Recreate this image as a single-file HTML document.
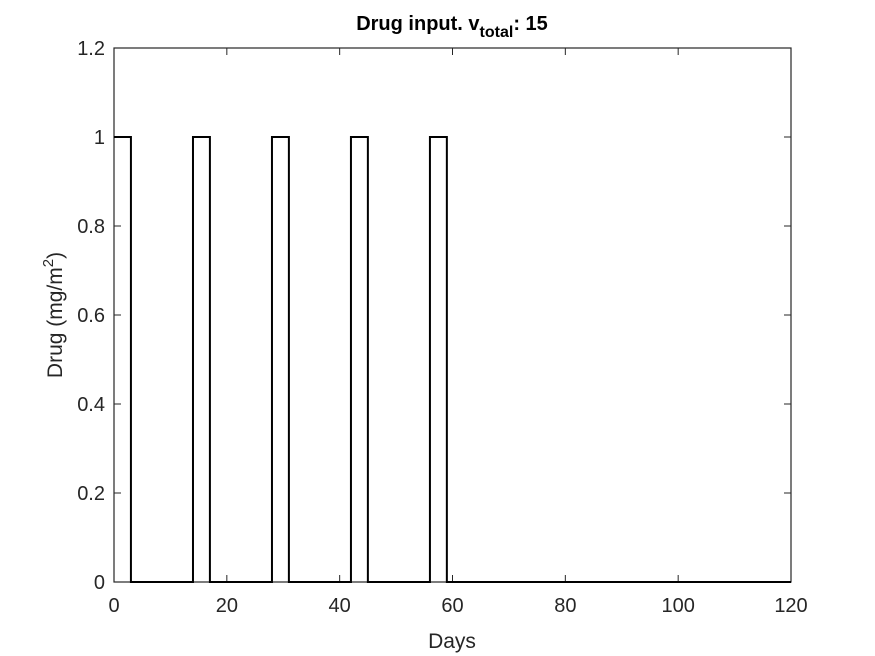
<!DOCTYPE html>
<html><head><meta charset="utf-8"><style>
html,body{margin:0;padding:0;background:#fff;}
svg{display:block;font-family:"Liberation Sans",Arial,sans-serif;}
</style></head><body>
<svg id="chart" width="875" height="656" viewBox="0 0 875 656">
<rect width="875" height="656" fill="#fff"/>
<rect x="114" y="48" width="677" height="534" fill="#fff" stroke="#262626" stroke-width="1.2"/>
<g id="ticks"></g>
<path id="series" fill="none" stroke="#000" stroke-width="2"/>
<text x="452" y="30" text-anchor="middle" font-size="20" font-weight="bold" fill="#000">Drug input. v<tspan font-size="16" dy="7">total</tspan><tspan dy="-7">: 15</tspan></text>
<text x="452" y="648" text-anchor="middle" font-size="21" fill="#262626">Days</text>
<text transform="translate(62,315) rotate(-90)" text-anchor="middle" font-size="21" fill="#262626">Drug (mg/m<tspan font-size="15" dy="-9">2</tspan><tspan dy="9">)</tspan></text>
</svg>
<script>
const times = [0, 3, 14, 17, 28, 31, 42, 45, 56, 59, 120];
const doses = [1, 0, 1, 0, 1, 0, 1, 0, 1, 0, 0];
const xTicks = [0, 20, 40, 60, 80, 100, 120];
const yTicks = [0, 0.2, 0.4, 0.6, 0.8, 1, 1.2];
const yTickLabels = ["0", "0.2", "0.4", "0.6", "0.8", "1", "1.2"];
const X0 = 114, X1 = 791, Y0 = 582, Y1 = 48;
const xMin = 0, xMax = 120, yMin = 0, yMax = 1.2;
function sx(v){return X0 + (v - xMin) / (xMax - xMin) * (X1 - X0);}
function sy(v){return Y0 - (v - yMin) / (yMax - yMin) * (Y0 - Y1);}
const ns = "http://www.w3.org/2000/svg";
const g = document.getElementById("ticks");
function mk(tag, attrs){const e=document.createElementNS(ns,tag);for(const k in attrs)e.setAttribute(k,attrs[k]);return e;}
xTicks.forEach(function(t){
  const x = sx(t);
  const l1 = mk("line",{x1:x,x2:x,y1:Y0,y2:Y0-7,stroke:"#262626"});
  
  
  g.appendChild(l1);
  const l2 = mk("line",{x1:x,x2:x,y1:Y1,y2:Y1+7,stroke:"#262626"});
  
  
  g.appendChild(l2);
  const tx = mk("text",{x:x,y:Y0+30,"text-anchor":"middle","font-size":"20",fill:"#262626"});
  tx.textContent = String(t);
  
  
  g.appendChild(tx);
});
yTicks.forEach(function(t,i){
  const y = sy(t);
  const l1 = mk("line",{x1:X0,x2:X0+7,y1:y,y2:y,stroke:"#262626"});
  
  
  g.appendChild(l1);
  const l2 = mk("line",{x1:X1,x2:X1-7,y1:y,y2:y,stroke:"#262626"});
  
  
  g.appendChild(l2);
  const tx = mk("text",{x:X0-9,y:y+7,"text-anchor":"end","font-size":"20",fill:"#262626"});
  tx.textContent = yTickLabels[i];
  
  
  g.appendChild(tx);
});
let d = "M" + sx(times[0]) + "," + sy(doses[0]);
for (let i = 1; i < times.length; i++) {
  d += " L" + sx(times[i]) + "," + sy(doses[i-1]) + " L" + sx(times[i]) + "," + sy(doses[i]);
}
document.getElementById("series").setAttribute("d", d);
</script>
</body></html>
